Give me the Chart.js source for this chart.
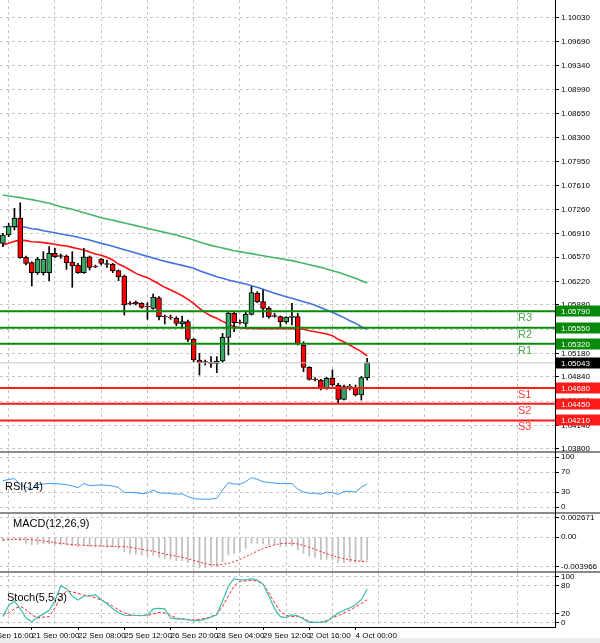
<!DOCTYPE html>
<html><head><meta charset="utf-8">
<script src="https://cdn.jsdelivr.net/npm/chart.js@4"></script>
<style>
html,body{margin:0;padding:0;background:#fff;width:600px;height:643px;overflow:hidden;position:relative;font-family:'Liberation Sans',Arial,sans-serif}
.p{position:absolute;left:0;width:600px}
.ln{position:absolute;background:#8a8a8a}
</style></head><body>
<div class="p" style="top:0;height:452px"><canvas id="cMain"></canvas></div>
<div class="p" style="top:453px;height:59px"><canvas id="cRsi"></canvas></div>
<div class="p" style="top:514px;height:57px"><canvas id="cMacd"></canvas></div>
<div class="p" style="top:573px;height:70px"><canvas id="cSto"></canvas></div>
<div class="ln" style="left:0;top:451px;width:600px;height:2px"></div>
<div class="ln" style="left:0;top:512px;width:600px;height:2px"></div>
<div class="ln" style="left:0;top:571px;width:600px;height:2px"></div>
<div class="ln" style="left:0;top:627px;width:556px;height:1px;background:#000"></div>
<div class="ln" style="left:555px;top:0;width:1px;height:628px;background:#000"></div>
<div class="ln" style="left:0;top:638px;width:600px;height:5px;background:#ececec"></div>
<script>
const open=[1.06771,1.06892,1.07012,1.07133,1.06569,1.06492,1.06347,1.06347,1.06347,1.06627,
1.06593,1.06588,1.06501,1.06458,1.06347,1.06578,1.06439,1.06540,1.06468,1.06468,
1.06376,1.06299,1.05904,1.05918,1.05904,1.05860,1.05831,1.05985,1.05716,1.05701,
1.05687,1.05605,1.05639,1.05383,1.05084,1.05060,1.05055,1.05036,1.05070,1.05412,
1.05759,1.05629,1.05614,1.05745,1.06048,1.05928,1.05831,1.05725,1.05711,1.05639,
1.05701,1.05711,1.05301,1.04978,1.04809,1.04795,1.04675,1.04819,1.04723,1.04515,
1.04694,1.04689,1.04578,1.04829];
const close=[1.06892,1.07022,1.07133,1.06564,1.06482,1.06347,1.06545,1.06540,1.06627,1.06578,
1.06583,1.06492,1.06443,1.06347,1.06578,1.06424,1.06429,1.06482,1.06477,1.06371,
1.06289,1.05880,1.05899,1.05894,1.05846,1.05851,1.05990,1.05711,1.05706,1.05692,
1.05614,1.05639,1.05383,1.05084,1.05046,1.05050,1.05036,1.05070,1.05412,1.05759,
1.05624,1.05619,1.05745,1.06058,1.05928,1.05831,1.05711,1.05716,1.05639,1.05701,
1.05721,1.05316,1.04978,1.04805,1.04800,1.04675,1.04819,1.04723,1.04515,1.04699,
1.04704,1.04578,1.04829,1.05046];
const high=[1.06916,1.07060,1.07277,1.07359,1.06588,1.06506,1.06569,1.06651,1.06723,1.06699,
1.06617,1.06602,1.06651,1.06482,1.06699,1.06588,1.06458,1.06554,1.06530,1.06482,
1.06386,1.06313,1.05928,1.05937,1.05913,1.05913,1.06039,1.06000,1.05735,1.05735,
1.05711,1.05721,1.05663,1.05397,1.05181,1.05084,1.05132,1.05132,1.05470,1.05783,
1.05783,1.05663,1.05783,1.06145,1.06072,1.06096,1.05855,1.05759,1.05721,1.05711,
1.05904,1.05759,1.05349,1.04988,1.04829,1.04805,1.04834,1.04940,1.04747,1.04723,
1.04732,1.04723,1.04844,1.05108];
const low=[1.06723,1.06868,1.06964,1.06554,1.06458,1.06154,1.06323,1.06313,1.06231,1.06569,
1.06554,1.06395,1.06135,1.06337,1.06337,1.06386,1.06419,1.06458,1.06424,1.06347,
1.06231,1.05735,1.05880,1.05880,1.05831,1.05672,1.05817,1.05663,1.05605,1.05672,
1.05581,1.05566,1.05349,1.05060,1.04867,1.05012,1.04978,1.04901,1.05046,1.05157,
1.05494,1.05605,1.05566,1.05735,1.05913,1.05701,1.05687,1.05701,1.05566,1.05614,
1.05590,1.05301,1.04916,1.04795,1.04781,1.04650,1.04660,1.04708,1.04467,1.04506,
1.04650,1.04564,1.04506,1.04795];
const maRed=[1.06747,1.06771,1.06800,1.06819,1.06810,1.06795,1.06790,1.06781,1.06771,1.06757,
1.06742,1.06733,1.06713,1.06694,1.06675,1.06646,1.06617,1.06598,1.06569,1.06530,
1.06472,1.06434,1.06386,1.06337,1.06304,1.06275,1.06231,1.06183,1.06135,1.06096,
1.06058,1.06014,1.05961,1.05904,1.05831,1.05769,1.05721,1.05687,1.05643,1.05605,
1.05566,1.05552,1.05542,1.05542,1.05537,1.05537,1.05537,1.05537,1.05537,1.05537,
1.05537,1.05532,1.05528,1.05508,1.05494,1.05479,1.05460,1.05436,1.05383,1.05344,
1.05301,1.05253,1.05205,1.05142];
const maBlue=[1.07012,1.07012,1.07012,1.07012,1.07003,1.06983,1.06974,1.06954,1.06940,1.06925,
1.06906,1.06892,1.06877,1.06858,1.06839,1.06819,1.06795,1.06771,1.06752,1.06728,
1.06704,1.06680,1.06656,1.06631,1.06607,1.06583,1.06559,1.06535,1.06511,1.06492,
1.06472,1.06453,1.06434,1.06410,1.06376,1.06347,1.06318,1.06289,1.06265,1.06241,
1.06222,1.06202,1.06183,1.06159,1.06135,1.06106,1.06077,1.06048,1.06024,1.06000,
1.05976,1.05952,1.05928,1.05904,1.05875,1.05841,1.05807,1.05774,1.05735,1.05697,
1.05653,1.05614,1.05566,1.05528];
const maGreen=[1.07470,1.07456,1.07446,1.07432,1.07417,1.07403,1.07388,1.07369,1.07350,1.07326,
1.07301,1.07282,1.07263,1.07239,1.07215,1.07191,1.07166,1.07142,1.07123,1.07104,
1.07085,1.07065,1.07046,1.07027,1.07007,1.06988,1.06969,1.06950,1.06930,1.06911,
1.06892,1.06868,1.06844,1.06819,1.06790,1.06766,1.06742,1.06723,1.06704,1.06684,
1.06665,1.06651,1.06636,1.06622,1.06607,1.06593,1.06578,1.06564,1.06550,1.06535,
1.06521,1.06501,1.06482,1.06463,1.06444,1.06424,1.06400,1.06376,1.06352,1.06323,
1.06294,1.06265,1.06231,1.06198];
const rsi=[52.6,55,57,44,39.5,35.5,45,46,47,46.7,46,44.7,42,38.8,47,43,43.4,44,43.4,42,
39,29,29,28.3,27,27.6,34,28.3,27.6,27,25.7,26.3,21,16.5,15.8,15.8,15.8,17.8,34,48.7,
46,45.4,50.7,58.6,55.3,50.7,48.7,48,46.7,47.4,46.7,35.5,30.3,27.6,27.6,25.7,29.6,29,25,31,
31.6,29.6,39.5,46];
const macdHist=[-0.00045,-0.00036,-0.00027,-0.00045,-0.00081,-0.00104,-0.00095,-0.00090,-0.00090,-0.00095,
-0.00099,-0.00104,-0.00117,-0.00126,-0.00117,-0.00122,-0.00126,-0.00126,-0.00131,-0.00135,
-0.00149,-0.00194,-0.00216,-0.00226,-0.00239,-0.00253,-0.00244,-0.00271,-0.00289,-0.00298,
-0.00316,-0.00316,-0.00343,-0.00388,-0.00406,-0.00406,-0.00397,-0.00388,-0.00329,-0.00239,
-0.00216,-0.00194,-0.00149,-0.00081,-0.00081,-0.00090,-0.00104,-0.00104,-0.00126,-0.00126,
-0.00117,-0.00171,-0.00216,-0.00253,-0.00271,-0.00298,-0.00298,-0.00307,-0.00343,-0.00343,
-0.00334,-0.00343,-0.00329,-0.00307];
const macdSignal=[-0.00036,-0.00032,-0.00027,-0.00027,-0.00027,-0.00032,-0.00041,-0.00050,-0.00059,-0.00072,
-0.00081,-0.00090,-0.00099,-0.00104,-0.00108,-0.00113,-0.00117,-0.00117,-0.00122,-0.00122,
-0.00126,-0.00126,-0.00135,-0.00149,-0.00162,-0.00176,-0.00189,-0.00207,-0.00226,-0.00239,
-0.00253,-0.00271,-0.00289,-0.00311,-0.00334,-0.00356,-0.00370,-0.00374,-0.00365,-0.00352,
-0.00329,-0.00298,-0.00262,-0.00226,-0.00185,-0.00153,-0.00126,-0.00104,-0.00086,-0.00081,
-0.00081,-0.00090,-0.00108,-0.00135,-0.00162,-0.00194,-0.00221,-0.00248,-0.00271,-0.00289,
-0.00302,-0.00316,-0.00325,-0.00329];
const stochMain=[13,37,47,30,10,2,12,18.5,27,47,80,74,58,49,58,58,61,50,41.5,30,
22,16,15.5,15.5,15.5,17,30,31,30,10,8,8,6.7,4.4,4.4,7.4,12,17,47,80,
96,93,93,96,92.6,84,58,30,13,11,17,15,8,0.5,0.5,1,2,12,21,27,
32,39,50,72.6];
const stochSignal=[17.5,21,30,35.6,28,17,10,12,13,32,54,69,67,64,60,58,54,49,43,35.6,
28,21,17,15.5,15,15.5,19,22,21,15.5,10,7.4,6,6,7.4,9,13,19,35.6,58,
80,90,91,92.6,90,84,65,43,24.5,15.5,13,13,10,2,0.5,0.5,4.4,10,15.5,21,
27,34,41.5,50];
const priceTicks=[1.10030,1.09690,1.09340,1.08990,1.08650,1.08300,1.07950,1.07610,1.07260,1.06910,1.06570,1.06220,1.05880,1.05530,1.05180,1.04840,1.04490,1.04140,1.03800];
const timeLabels=['20 Sep 16:00','21 Sep 00:00','22 Sep 08:00','25 Sep 12:00','26 Sep 20:00','28 Sep 04:00','29 Sep 12:00','2 Oct 16:00','4 Oct 00:00'];
const timeIdx=[-3,5,13,21,29,37,45,53,61];
const gridIdx=[1,9,17,25,33,41,49,57,65,73,81,89];
const resist=[{n:'R3',v:1.0579},{n:'R2',v:1.0555},{n:'R1',v:1.0532}];
const support=[{n:'S1',v:1.0468},{n:'S2',v:1.0445},{n:'S3',v:1.0421}];
const lastPrice=1.05043;
const rsiTicks=[100,70,30,0];
const macdTicks=[0.002671,0,-0.003966];
const macdTickText=['0.002671','0.00','-0.003966'];
const stochTicks=[100,80,20,0];

const FONT="'Liberation Sans', Arial, sans-serif";
Chart.defaults.font.family=FONT;
Chart.defaults.animation=false;
const pts=a=>a.map((v,i)=>({x:i,y:v}));
const GRID='#c6c6c6';
function xg(){return {type:'linear',position:'top',min:-0.5,max:95.5,offset:false,
  afterBuildTicks:s=>{s.ticks=gridIdx.map(v=>({value:v}));},
  ticks:{display:false},grid:{color:GRID,drawTicks:false,offset:false},border:{display:false,dash:[3,3]},
  afterFit:s=>{s.height=0;s.paddingLeft=0;s.paddingRight=0;}};}
function xh(){return {type:'linear',display:false,min:-0.5,max:95.5,offset:false,grid:{offset:false}};}
function yax(min,max,ticks,fmt){return {type:'linear',position:'right',min,max,
  afterBuildTicks:s=>{s.ticks=ticks.map(v=>({value:v}));},
  ticks:{font:{size:8},color:'#000',padding:2,callback:fmt},
  grid:{color:GRID,tickColor:'#000',tickLength:4,tickBorderDash:[]},border:{display:false,dash:[3,3]},
  afterFit:s=>{s.width=45;s.paddingTop=0;s.paddingBottom=0;}};}
const base={responsive:true,maintainAspectRatio:false,layout:{padding:0},
  plugins:{legend:{display:false},tooltip:{enabled:false}},events:[]};
function labelPlugin(txt,x,y){return {id:'lbl'+txt,afterDraw(c){const g=c.ctx;g.save();g.font='11px '+FONT;g.fillStyle='#000';g.textBaseline='middle';g.fillText(txt,x,y);g.restore();}};}

const levelPlugin={id:'levels',afterDraw(c){
  const g=c.ctx,ys=c.scales.y,a=c.chartArea;g.save();
  const box=(v,bg)=>{const y=Math.round(ys.getPixelForValue(v));g.fillStyle=bg;g.fillRect(556,y-5.5,44,11);
    g.fillStyle='#fff';g.font='8px '+FONT;g.textBaseline='middle';g.textAlign='left';g.fillText(v.toFixed(5),561,y+0.5);};
  let y=ys.getPixelForValue(lastPrice);g.strokeStyle='#c8c8c8';g.lineWidth=1;g.beginPath();g.moveTo(a.left,y);g.lineTo(a.right,y);g.stroke();
  const draw=(arr,col,tcol)=>arr.forEach(l=>{const y=ys.getPixelForValue(l.v);g.strokeStyle=col;g.lineWidth=2;g.beginPath();g.moveTo(a.left,y);g.lineTo(a.right,y);g.stroke();
    g.fillStyle=tcol;g.font='11px '+FONT;g.textBaseline='middle';g.textAlign='left';g.fillText(l.n,518,y+7);box(l.v,col);});
  draw(resist,'#0a8a0a','#4ca64c');draw(support,'#ff1a1a','#ff3b3b');
  box(lastPrice,'#000');g.restore();}};
new Chart(document.getElementById('cMain'),{type:'bar',data:{datasets:[
  {type:'line',data:pts(maRed),borderColor:'#ff1010',borderWidth:1.6,pointRadius:0,order:3},
  {type:'line',data:pts(maBlue),borderColor:'#4170e0',borderWidth:1.6,pointRadius:0,order:3},
  {type:'line',data:pts(maGreen),borderColor:'#45b56a',borderWidth:1.6,pointRadius:0,order:3},
  {data:open.map((o,i)=>({x:i,y:[low[i],high[i]]})),backgroundColor:'#000',barThickness:1,grouped:false,order:2},
  {data:open.map((o,i)=>({x:i,y:[o,close[i]===o?o+0.00003:close[i]]})),
   backgroundColor:open.map((o,i)=>close[i]>=o?'#3aa864':'#ff0000'),borderColor:'#000',borderWidth:1,borderSkipped:false,barThickness:5,grouped:false,order:1}
]},options:{...base,scales:{x:xh(),xg:xg(),y:yax(1.03754,1.1029,priceTicks,v=>v.toFixed(5))}},plugins:[levelPlugin]});

new Chart(document.getElementById('cRsi'),{type:'line',data:{datasets:[
  {data:pts(rsi),borderColor:'#3c9bf0',borderWidth:1,pointRadius:0}]},
  options:{...base,scales:{x:xh(),xg:xg(),y:yax(-10,108,rsiTicks,v=>String(v))}},plugins:[labelPlugin('RSI(14)',5,34)]});

new Chart(document.getElementById('cMacd'),{type:'bar',data:{datasets:[
  {type:'line',data:pts(macdSignal),borderColor:'#ff2020',borderWidth:1,borderDash:[2,2],pointRadius:0,order:0},
  {data:pts(macdHist),backgroundColor:'#bdbdbd',barThickness:1,grouped:false,order:1}]},
  options:{...base,scales:{x:xh(),xg:xg(),y:yax(-0.004546,0.00314,macdTicks,(v,i)=>macdTickText[i])}},plugins:[labelPlugin('MACD(12,26,9)',13,10)]});

new Chart(document.getElementById('cSto'),{type:'line',data:{datasets:[
  {data:pts(stochMain),borderColor:'#3cbcb0',borderWidth:1.2,pointRadius:0},
  {data:pts(stochSignal),borderColor:'#ff2020',borderWidth:1,borderDash:[3,2],pointRadius:0}]},
  options:{...base,scales:{
    x:{type:'linear',position:'bottom',min:-0.5,max:95.5,offset:false,
      afterBuildTicks:s=>{s.ticks=timeIdx.map(v=>({value:v}));},
      ticks:{font:{size:8},color:'#000',align:'start',maxRotation:0,autoSkip:false,padding:1,callback:(v,i)=>timeLabels[i]},
      grid:{drawOnChartArea:false,tickLength:3,tickColor:'#000'},border:{display:false},
      afterFit:s=>{s.height=16;s.paddingLeft=0;s.paddingRight=0;}},
    xg:xg(),y:yax(-9.6,108.2,stochTicks,v=>String(v))}},plugins:[labelPlugin('Stoch(5,5,3)',7,25)]});
</script></body></html>
